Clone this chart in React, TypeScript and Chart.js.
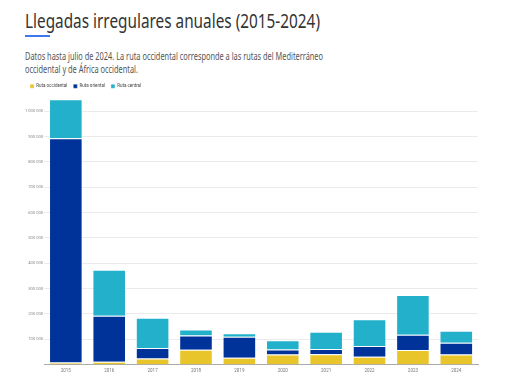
import React, { useEffect, useRef, useLayoutEffect } from "react";
import { Chart, registerables } from "chart.js";

Chart.register(...registerables);

const years = ["2015", "2016", "2017", "2018", "2019", "2020", "2021", "2022", "2023", "2024"];
const occidental = [8000, 10900, 23600, 58400, 26700, 40300, 41000, 30600, 57300, 39700];
const oriental = [885400, 182300, 42300, 56600, 83300, 19700, 20600, 42800, 60100, 46400];
const central = [153900, 181400, 119000, 23500, 14000, 35700, 67700, 105600, 157500, 47600];
const seriesNames = ["Ruta occidental", "Ruta oriental", "Ruta central"];
const yTickValues = [100000, 200000, 300000, 400000, 500000, 600000, 700000, 800000, 900000, 1000000];

const titleText = "Llegadas irregulares anuales (2015-2024)";
const subtitleLines = [
  "Datos hasta julio de 2024. La ruta occidental corresponde a las rutas del Mediterráneo",
  "occidental y de África occidental.",
];

function FitText(props: { text: string; width: number; style: React.CSSProperties }) {
  const ref = useRef<HTMLSpanElement>(null);
  useLayoutEffect(() => {
    const el = ref.current;
    if (!el) return;
    el.style.transform = "none";
    const w = el.getBoundingClientRect().width;
    if (w > 0) el.style.transform = `scaleX(${props.width / w})`;
  }, [props.text, props.width]);
  return (
    <span
      ref={ref}
      style={{ display: "inline-block", whiteSpace: "nowrap", transformOrigin: "0 0", ...props.style }}
    >
      {props.text}
    </span>
  );
}

function fmt(v: number) {
  return String(v).replace(/\B(?=(\d{3})+(?!\d))/g, " ");
}

export default function App() {
  const canvasRef = useRef<HTMLCanvasElement>(null);

  useEffect(() => {
    document.body.style.margin = "0";
    const ctx = canvasRef.current!;
    const chart = new Chart(ctx, {
      type: "bar",
      data: {
        labels: years,
        datasets: [
          { label: seriesNames[0], data: occidental, backgroundColor: "#E8C52A", borderColor: "rgba(255,255,255,0.35)", borderWidth: 1 },
          { label: seriesNames[1], data: oriental, backgroundColor: "#003399", borderColor: "rgba(255,255,255,0.25)", borderWidth: 1 },
          { label: seriesNames[2], data: central, backgroundColor: "#22B0CA", borderColor: "rgba(255,255,255,0.35)", borderWidth: 1 },
        ],
      },
      options: {
        animation: false,
        responsive: true,
        maintainAspectRatio: false,
        layout: { padding: { left: 24, right: 40, top: 0, bottom: 2 } },
        datasets: { bar: { barPercentage: 0.9, categoryPercentage: 0.86 } },
        plugins: {
          tooltip: { enabled: false },
          legend: {
            position: "top",
            align: "start",
            labels: {
              boxWidth: 4,
              boxHeight: 4,
              padding: 6,
              color: "#444",
              font: { family: "Roboto, sans-serif", size: 4.5 },
            },
          },
        },
        scales: {
          x: {
            stacked: true,
            grid: { display: false, drawTicks: false },
            border: { display: true, color: "#aaa", width: 1 },
            ticks: { color: "#777", padding: 4, font: { family: "Roboto, sans-serif", size: 4.5 } },
          },
          y: {
            stacked: true,
            min: 0,
            max: 1050000,
            grid: { drawTicks: false, color: "#ebebeb" },
            border: { display: false },
            afterBuildTicks: (axis: any) => {
              axis.ticks = yTickValues.map((v) => ({ value: v }));
            },
            ticks: {
              autoSkip: false,
              padding: 1,
              color: "#888",
              font: { family: "Roboto, sans-serif", size: 4.1 },
              callback: (v: any) => fmt(Number(v)),
            },
          },
        },
      },
    });
    return () => chart.destroy();
  }, []);

  return (
    <div style={{ position: "relative", width: 518, height: 380, background: "#fff", overflow: "hidden", fontFamily: "'Noto Sans', sans-serif" }}>
      <div style={{ position: "absolute", left: 25, top: 8, height: 26 }}>
        <FitText text={titleText} width={295} style={{ fontSize: 20, color: "#333", lineHeight: "26px", fontFamily: "'Noto Sans', sans-serif" }} />
      </div>
      <div style={{ position: "absolute", left: 25, top: 35, width: 25, height: 2, background: "#3C78EE" }} />
      <div style={{ position: "absolute", left: 25, top: 43 }}>
        <div style={{ height: 13 }}>
          <FitText text={subtitleLines[0]} width={298} style={{ fontSize: 10, color: "#555", lineHeight: "13px" }} />
        </div>
        <div style={{ height: 13 }}>
          <FitText text={subtitleLines[1]} width={113} style={{ fontSize: 10, color: "#555", lineHeight: "13px" }} />
        </div>
      </div>
      <div style={{ position: "absolute", left: 0, top: 78, width: 518, height: 302 }}>
        <canvas ref={canvasRef} />
      </div>
    </div>
  );
}
